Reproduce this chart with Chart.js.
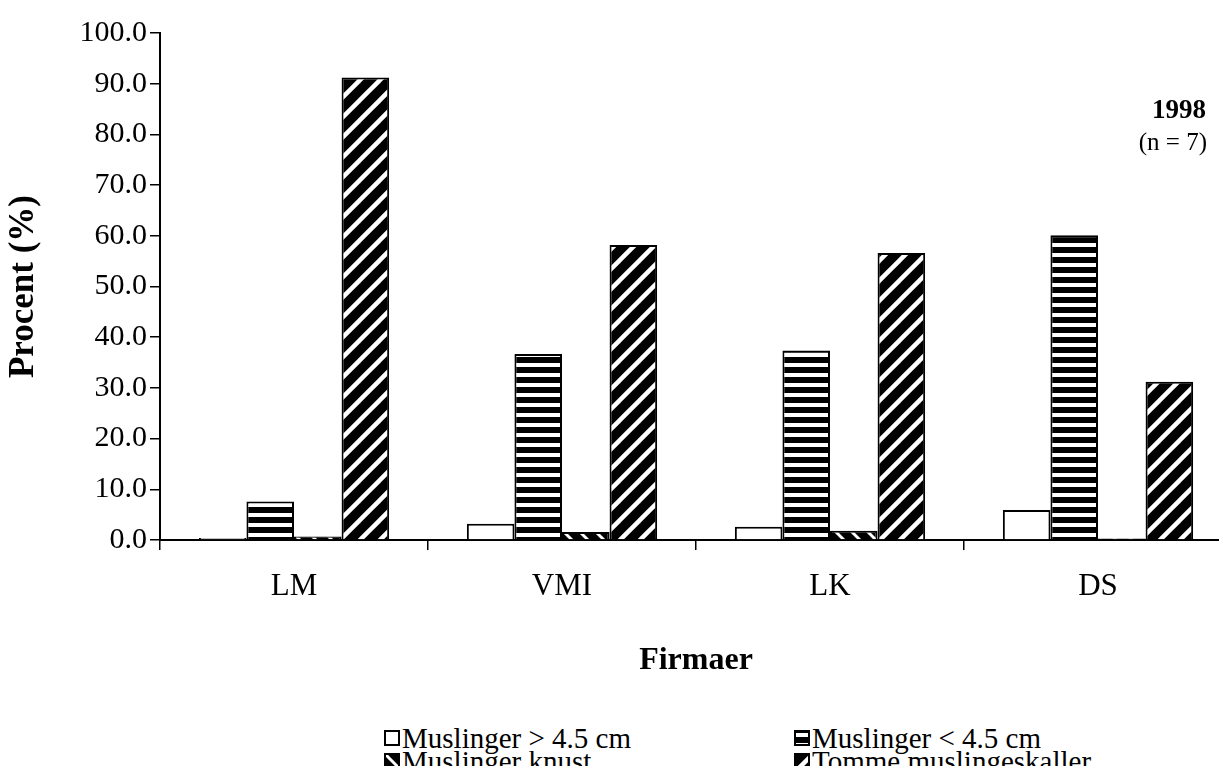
<!DOCTYPE html>
<html>
<head>
<meta charset="utf-8">
<script src="https://cdn.jsdelivr.net/npm/chart.js@4"></script>
<style>
  body { margin: 0; background: #fff; overflow: hidden; width: 1219px; height: 766px; position: relative;
         font-family: "Liberation Serif", "Times New Roman", serif; }
  #wrap { position: absolute; left: 0; top: 0; width: 1232px; height: 690px; }
  .item { position: absolute; font-size: 29px; line-height: 26px; height: 26px; display: flex; align-items: center; white-space: nowrap; color: #000; }
  .item canvas { margin-right: 2px; }
</style>
</head>
<body>
<div id="wrap"><canvas id="chart"></canvas></div>
<div id="legend"></div>
<script>
// data
const firmaer = ["LM", "VMI", "LK", "DS"];
const serieNavne = ["Muslinger > 4.5 cm", "Muslinger < 4.5 cm", "Muslinger knust", "Tomme muslingeskaller"];
const store = [0.4, 3.2, 2.6, 5.9];
const smaa = [7.6, 36.7, 37.4, 60.1];
const knust = [0.7, 1.6, 1.8, 0.3];
const tomme = [91.2, 58.2, 56.6, 31.2];
const yMin = 0, yMax = 100, yStep = 10;
const aar = "1998";
const antal = "(n = 7)";

const serif = "'Liberation Serif', 'Times New Roman', serif";

// fill patterns
function makeTile(size, draw) {
  const c = document.createElement("canvas");
  c.width = size; c.height = size;
  const g = c.getContext("2d");
  draw(g, size);
  return c;
}
const tiles = [
  makeTile(10, function(g, s) { g.fillStyle = "#fff"; g.fillRect(0, 0, s, s); }),
  makeTile(10, function(g, s) {
    g.fillStyle = "#000"; g.fillRect(0, 0, s, s);
    g.fillStyle = "#fff"; g.fillRect(0, 3, s, 4);
  }),
  makeTile(16, function(g, s) {
    g.fillStyle = "#000"; g.fillRect(0, 0, s, s);
    g.strokeStyle = "#fff"; g.lineWidth = 3;
    [-s, 0, s].forEach(function(o) {
      g.beginPath(); g.moveTo(o - 2, -2); g.lineTo(o + s + 2, s + 2); g.stroke();
    });
  }),
  makeTile(20, function(g, s) {
    g.fillStyle = "#000"; g.fillRect(0, 0, s, s);
    g.strokeStyle = "#fff"; g.lineWidth = 4.5;
    [-s, 0, s].forEach(function(o) {
      g.beginPath(); g.moveTo(o - 2, s + 2); g.lineTo(o + s + 2, -2); g.stroke();
    });
  })
];

const ctx = document.getElementById("chart").getContext("2d");
const patterns = tiles.map(function(t) { return ctx.createPattern(t, "repeat"); });
const serier = [store, smaa, knust, tomme];

const textPlugin = {
  id: "aarTekst",
  afterDraw: function(chart) {
    const c = chart.ctx;
    c.save();
    c.fillStyle = "#000";
    c.textAlign = "right";
    c.textBaseline = "middle";
    c.font = "bold 27px " + serif;
    c.fillText(aar, 1206, 111);
    c.font = "25px " + serif;
    c.fillText(antal, 1207, 143);
    c.restore();
  }
};

new Chart(ctx, {
  type: "bar",
  data: {
    labels: firmaer,
    datasets: serier.map(function(d, i) {
      return {
        label: serieNavne[i],
        data: d,
        backgroundColor: patterns[i],
        borderColor: "#000",
        borderWidth: 2,
        categoryPercentage: 0.71,
        barPercentage: 1.0
      };
    })
  },
  options: {
    responsive: true,
    maintainAspectRatio: false,
    animation: false,
    layout: { padding: { left: 0, top: 33, right: 0, bottom: 0 } },
    plugins: { legend: { display: false }, tooltip: { enabled: false } },
    scales: {
      x: {
        grid: { drawOnChartArea: false, drawTicks: true, tickLength: 10, color: "#000", lineWidth: 1.5 },
        border: { color: "#000", width: 2 },
        ticks: { color: "#000", font: { family: serif, size: 31 }, padding: 18 },
        title: { display: true, text: "Firmaer", color: "#000", font: { family: serif, size: 32, weight: "bold" }, padding: { top: 10, bottom: 10 } },
        afterFit: function(scale) { scale.height = 150; }
      },
      y: {
        min: yMin, max: yMax,
        grid: { drawOnChartArea: false, drawTicks: true, tickLength: 10, color: "#000", lineWidth: 1.5 },
        border: { color: "#000", width: 2 },
        ticks: { stepSize: yStep, color: "#000", font: { family: serif, size: 30 }, padding: 3,
                 callback: function(v) { return v.toFixed(1); } },
        title: { display: true, text: "Procent (%)", color: "#000", font: { family: serif, size: 35, weight: "bold" }, padding: { top: 3, bottom: 3 } },
        afterFit: function(scale) { scale.width = 160; }
      }
    }
  },
  plugins: [textPlugin]
});

// legend in two columns below the chart
const legend = document.getElementById("legend");
const pos = [[384, 725], [794, 725], [384, 748], [794, 748]];
serieNavne.forEach(function(navn, i) {
  const div = document.createElement("div");
  div.className = "item";
  div.style.left = pos[i][0] + "px";
  div.style.top = pos[i][1] + "px";
  const sw = document.createElement("canvas");
  sw.width = 16; sw.height = 16;
  const g = sw.getContext("2d");
  g.fillStyle = g.createPattern(tiles[i], "repeat");
  g.fillRect(0, 0, 16, 16);
  g.strokeStyle = "#000"; g.lineWidth = 2;
  g.strokeRect(1, 1, 14, 14);
  div.appendChild(sw);
  div.appendChild(document.createTextNode(navn));
  legend.appendChild(div);
});
</script>
</body>
</html>
